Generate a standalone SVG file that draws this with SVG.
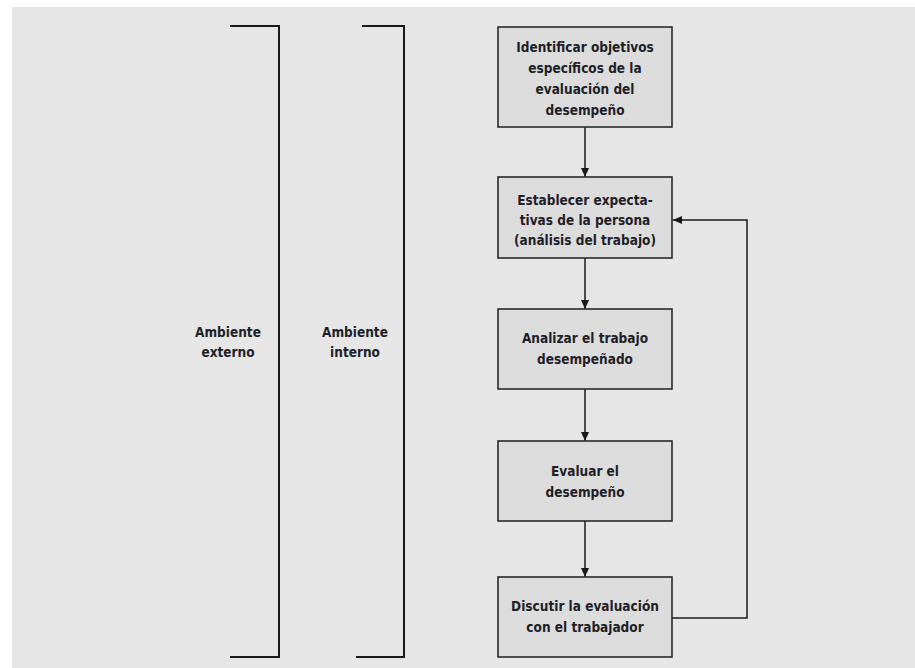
<svg xmlns="http://www.w3.org/2000/svg" width="915" height="668" viewBox="0 0 915 668">
<defs>
<style>
.box{fill:#dcdcdc;stroke:#2a2a2a;stroke-width:1.6}
.t{font-family:"Liberation Sans Narrow","DejaVu Sans Condensed","Liberation Sans",sans-serif;font-weight:bold;font-size:13.5px;fill:#1e1e28;text-anchor:middle}
.ln{fill:none;stroke:#1a1a1a;stroke-width:1.5}
.br{fill:none;stroke:#1a1a1a;stroke-width:2}
</style>
<marker id="ah" markerWidth="10" markerHeight="10" refX="9" refY="5" orient="auto" markerUnits="userSpaceOnUse">
<path d="M0,1 L9,5 L0,9 Z" fill="#1a1a1a"/>
</marker>
</defs>
<rect x="0" y="0" width="915" height="668" fill="#ffffff"/>
<rect x="12" y="7" width="903" height="661" fill="#e6e6e6"/>
<g id="bracket-externo">
<path class="br" d="M230,26 H279 V657 H230"/>
<text class="t" x="228" y="337">Ambiente</text>
<text class="t" x="228" y="357">externo</text>
</g>
<g id="bracket-interno">
<path class="br" d="M362,26 H404 V657 H356"/>
<text class="t" x="355" y="337">Ambiente</text>
<text class="t" x="355" y="357">interno</text>
</g>
<g id="connectors">
<line class="ln" x1="585" y1="127" x2="585" y2="177" marker-end="url(#ah)"/>
<line class="ln" x1="585" y1="258" x2="585" y2="309" marker-end="url(#ah)"/>
<line class="ln" x1="585" y1="389" x2="585" y2="441" marker-end="url(#ah)"/>
<line class="ln" x1="585" y1="521" x2="585" y2="577" marker-end="url(#ah)"/>
<path class="ln" d="M672,618 H747 V220 H673" marker-end="url(#ah)"/>
</g>
<g id="n1">
<rect class="box" x="498" y="27" width="174" height="100"/>
<text class="t" x="585" y="52">Identificar objetivos</text>
<text class="t" x="585" y="73">específicos de la</text>
<text class="t" x="585" y="94">evaluación del</text>
<text class="t" x="585" y="115">desempeño</text>
</g>
<g id="n2">
<rect class="box" x="498" y="177" width="174" height="81"/>
<text class="t" x="585" y="205">Establecer expecta-</text>
<text class="t" x="585" y="225">tivas de la persona</text>
<text class="t" x="585" y="245">(análisis del trabajo)</text>
</g>
<g id="n3">
<rect class="box" x="498" y="309" width="174" height="80"/>
<text class="t" x="585" y="343">Analizar el trabajo</text>
<text class="t" x="585" y="364">desempeñado</text>
</g>
<g id="n4">
<rect class="box" x="498" y="441" width="174" height="80"/>
<text class="t" x="585" y="476">Evaluar el</text>
<text class="t" x="585" y="497">desempeño</text>
</g>
<g id="n5">
<rect class="box" x="498" y="577" width="174" height="80"/>
<text class="t" x="585" y="611">Discutir la evaluación</text>
<text class="t" x="585" y="632">con el trabajador</text>
</g>
</svg>
